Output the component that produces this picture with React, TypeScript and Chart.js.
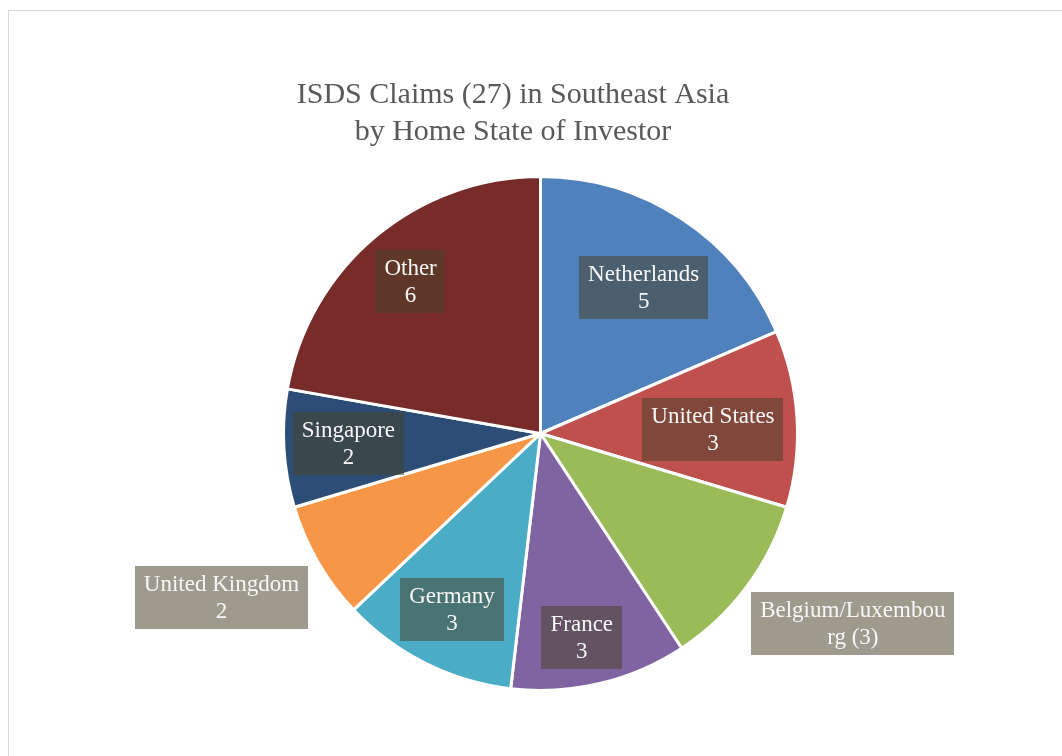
import React, { useEffect, useRef } from "react";
import { Chart, registerables } from "chart.js";

Chart.register(...registerables);

const categories = [
  "Netherlands",
  "United States",
  "Belgium/Luxembourg",
  "France",
  "Germany",
  "United Kingdom",
  "Singapore",
  "Other",
];
const claimCounts = [5, 3, 3, 3, 3, 2, 2, 6];
const sliceColors = [
  "#4F81BD",
  "#C0504D",
  "#9BBB59",
  "#8064A2",
  "#4BACC6",
  "#F79646",
  "#2C4D75",
  "#772C2A",
];
const titleLines = ["ISDS Claims (27) in Southeast Asia", "by Home State of Investor"];
const labelOverrides: Record<string, string[]> = {
  "Belgium/Luxembourg": ["Belgium/Luxembou", "rg (3)"],
};

// label placement (style): radial factor of the radius and angular shift in degrees
const labelRadialFactor = [0.7, 0.675, 1.43, 0.815, 0.772, 1.404, 0.753, 0.783];
const labelAngleShift = [1.9, 2.0, -5.4, 1.9, 0, 2.8, 0.3, -0.5];

const FONT = "'Liberation Serif', 'Times New Roman', serif";

const labelPlugin = {
  id: "boxLabels",
  afterDatasetsDraw(chart: any) {
    const ctx = chart.ctx as CanvasRenderingContext2D;
    const meta = chart.getDatasetMeta(0);
    ctx.save();
    ctx.font = `23px ${FONT}`;
    ctx.textAlign = "center";
    ctx.textBaseline = "middle";
    meta.data.forEach((arc: any, i: number) => {
      const p = arc.getProps(["x", "y", "startAngle", "endAngle", "outerRadius"], true);
      const visR = p.outerRadius - 1.5;
      const mid = (p.startAngle + p.endAngle) / 2 + (labelAngleShift[i] * Math.PI) / 180;
      const r = visR * labelRadialFactor[i];
      const cx = p.x + r * Math.cos(mid);
      const cy = p.y + r * Math.sin(mid);
      const cat = chart.data.labels[i];
      const val = chart.data.datasets[0].data[i];
      const lines = labelOverrides[cat] || [cat, String(val)];
      const lineH = 26.5;
      const w = Math.max(...lines.map((l: string) => ctx.measureText(l).width)) + 18;
      const h = lines.length * lineH + 10;
      const bx = Math.round(cx - w / 2);
      const by = Math.round(cy - h / 2);
      ctx.fillStyle = "rgba(72,66,41,0.53)";
      ctx.fillRect(bx, by, Math.round(w), Math.round(h));
      ctx.fillStyle = "#f7f7f7";
      lines.forEach((l: string, k: number) => {
        ctx.fillText(l, cx, by + 5 + lineH * (k + 0.5) + 1);
      });
    });
    ctx.restore();
  },
  afterDraw(chart: any) {
    const ctx = chart.ctx as CanvasRenderingContext2D;
    ctx.save();
    ctx.font = `30px ${FONT}`;
    ctx.fillStyle = "#595959";
    ctx.textAlign = "center";
    ctx.textBaseline = "alphabetic";
    ctx.fillText(titleLines[0], 513, 103);
    ctx.fillText(titleLines[1], 513, 140);
    ctx.restore();
  },
};

export default function App() {
  const canvasRef = useRef<HTMLCanvasElement | null>(null);

  useEffect(() => {
    if (!canvasRef.current) return;
    const chart = new Chart(canvasRef.current, {
      type: "pie",
      data: {
        labels: categories,
        datasets: [
          {
            data: claimCounts,
            backgroundColor: sliceColors,
            borderColor: "#ffffff",
            borderWidth: 3,
            hoverOffset: 0,
          },
        ],
      },
      options: {
        responsive: false,
        animation: false,
        events: [],
        layout: { padding: { left: 19, right: 0, top: 175, bottom: 64 } },
        plugins: {
          legend: { display: false },
          tooltip: { enabled: false },
          title: { display: false },
        },
      },
      plugins: [labelPlugin],
    });
    return () => chart.destroy();
  }, []);

  return (
    <div
      style={{
        position: "fixed",
        left: 0,
        top: 0,
        width: 1062,
        height: 756,
        overflow: "hidden",
        background: "#ffffff",
      }}
    >
      <div
        style={{
          position: "absolute",
          left: 8,
          top: 10,
          width: 1200,
          height: 900,
          border: "1px solid #d9d9d9",
        }}
      />
      <canvas
        ref={canvasRef}
        width={1062}
        height={756}
        style={{ position: "absolute", left: 0, top: 0, width: 1062, height: 756 }}
      />
    </div>
  );
}
